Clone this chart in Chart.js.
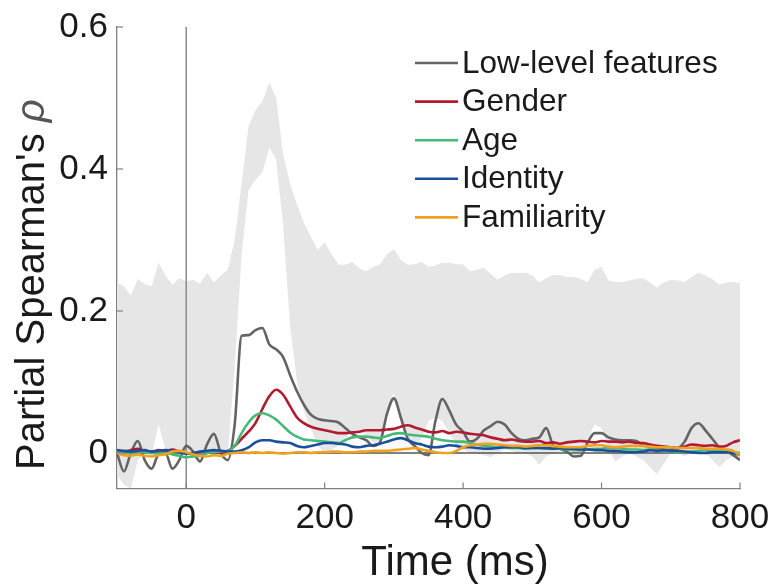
<!DOCTYPE html>
<html>
<head>
<meta charset="utf-8">
<script src="https://cdn.jsdelivr.net/npm/chart.js@4.4.1/dist/chart.umd.min.js"></script>
<style>
  html, body { margin: 0; padding: 0; background: #fff; }
</style>
</head>
<body>
<canvas id="chart" width="772" height="586"></canvas>
<script>
// time axis (ms), one sample every 10 ms
const times = [
  -100, -90, -80, -70, -60, -50, -40, -30, -20, -10,
  0, 10, 20, 30, 40, 50, 60, 70, 80, 90,
  100, 110, 120, 130, 140, 150, 160, 170, 180, 190,
  200, 210, 220, 230, 240, 250, 260, 270, 280, 290,
  300, 310, 320, 330, 340, 350, 360, 370, 380, 390,
  400, 410, 420, 430, 440, 450, 460, 470, 480, 490,
  500, 510, 520, 530, 540, 550, 560, 570, 580, 590,
  600, 610, 620, 630, 640, 650, 660, 670, 680, 690,
  700, 710, 720, 730, 740, 750, 760, 770, 780, 790,
  800
];

const lowLevel = [
  0.0, -0.026, 0.0, 0.017, -0.01, -0.022, -0.002, 0.0, -0.022, -0.01,
  0.01, 0.002, -0.012, 0.012, 0.027, 0.0, -0.01, 0.04, 0.165, 0.166,
  0.173, 0.176, 0.153, 0.146, 0.135, 0.11, 0.087, 0.068, 0.054, 0.048,
  0.046, 0.045, 0.043, 0.035, 0.027, 0.022, 0.018, 0.01, 0.015, 0.055,
  0.077, 0.05, 0.02, 0.01, 0.0, -0.003, 0.045, 0.076, 0.06, 0.04,
  0.03, 0.016, 0.02, 0.032, 0.038, 0.044, 0.04, 0.028, 0.02, 0.018,
  0.02, 0.022, 0.035, 0.011, 0.006, 0.002, -0.005, -0.004, 0.015, 0.028,
  0.028, 0.022, 0.019, 0.018, 0.018, 0.017, 0.011, 0.009, 0.007, 0.005,
  0.004, 0.006, 0.016, 0.035, 0.042, 0.032, 0.02, 0.008, 0.003, -0.003,
  -0.01
];

const gender = [
  0.003, 0.002, 0.004, 0.006, 0.003, 0.002, 0.004, 0.003, 0.005, 0.002,
  0.0, -0.002, -0.003, 0.0, 0.002, 0.0, 0.003, 0.01, 0.02, 0.03,
  0.042, 0.062, 0.08, 0.089, 0.082, 0.066, 0.05, 0.042, 0.037, 0.034,
  0.032, 0.03, 0.028, 0.028, 0.029, 0.03, 0.032, 0.032, 0.032, 0.033,
  0.034, 0.037, 0.039, 0.036, 0.033, 0.03, 0.029, 0.031, 0.028, 0.03,
  0.029, 0.027, 0.026, 0.025, 0.022, 0.02, 0.018, 0.019, 0.017, 0.016,
  0.016, 0.017, 0.014, 0.015, 0.013, 0.015, 0.016, 0.017, 0.016, 0.015,
  0.017, 0.016, 0.016, 0.015, 0.016, 0.014, 0.014, 0.012, 0.01, 0.009,
  0.008, 0.007, 0.009, 0.012, 0.011, 0.01, 0.011, 0.009, 0.01, 0.015,
  0.018
];

const age = [
  0.002, 0.001, 0.0, 0.002, 0.001, 0.0, -0.001, 0.0, -0.002, -0.004,
  -0.006, -0.005, -0.003, 0.0, 0.002, 0.002, 0.003, 0.01, 0.028, 0.043,
  0.053, 0.056, 0.053, 0.047, 0.038, 0.029, 0.023, 0.019, 0.018, 0.017,
  0.016, 0.015, 0.014, 0.018, 0.022, 0.023, 0.023, 0.022, 0.021, 0.024,
  0.027, 0.028, 0.026, 0.025, 0.024, 0.023, 0.02, 0.018, 0.017, 0.016,
  0.016, 0.014, 0.012, 0.01, 0.009, 0.008, 0.008, 0.007, 0.007, 0.006,
  0.007, 0.007, 0.006, 0.007, 0.006, 0.005, 0.004, 0.004, 0.005, 0.006,
  0.006, 0.007, 0.007, 0.006, 0.005, 0.005, 0.004, 0.005, 0.004, 0.003,
  0.002, 0.001, 0.001, 0.002, 0.003, 0.004, 0.004, 0.003, 0.002, 0.001,
  0.0
];

const identity = [
  0.004, 0.003, 0.002, 0.003, 0.004, 0.002, 0.003, 0.004, 0.003, 0.001,
  -0.001, 0.0, 0.002, 0.003, 0.004, 0.003, 0.002, 0.002, 0.004, 0.008,
  0.015, 0.018, 0.018, 0.016, 0.015, 0.014, 0.01, 0.008, 0.01, 0.012,
  0.014, 0.014, 0.013, 0.012, 0.009, 0.008, 0.01, 0.011, 0.013, 0.016,
  0.019, 0.021, 0.018, 0.014, 0.012, 0.009, 0.008, 0.009, 0.011, 0.01,
  0.008, 0.008, 0.007, 0.006, 0.006, 0.007, 0.008, 0.008, 0.008, 0.007,
  0.007, 0.007, 0.007, 0.006, 0.007, 0.006, 0.006, 0.005, 0.005, 0.004,
  0.004, 0.003, 0.003, 0.002, 0.001, 0.001, 0.002, 0.004, 0.003, 0.004,
  0.003, 0.003, 0.002, 0.001, 0.0, 0.0, 0.001, 0.001, 0.001, 0.0,
  -0.003
];

const familiarity = [
  0.0, -0.003, -0.004, -0.002, -0.004, -0.005, -0.003, -0.002, 0.002, 0.003,
  0.001, -0.002, -0.004, -0.005, -0.003, -0.004, -0.001, 0.0, 0.001, 0.0,
  0.001, 0.0, 0.001, 0.0, -0.001, 0.0, 0.001, 0.001, 0.0, 0.001,
  0.001, 0.002, 0.002, 0.001, 0.001, 0.002, 0.002, 0.003, 0.003, 0.003,
  0.004, 0.005, 0.006, 0.007, 0.005, 0.003, 0.001, 0.0, 0.0, 0.003,
  0.008, 0.011, 0.012, 0.013, 0.013, 0.012, 0.011, 0.01, 0.01, 0.009,
  0.01, 0.011, 0.011, 0.01, 0.009, 0.008, 0.008, 0.008, 0.01, 0.011,
  0.011, 0.009, 0.008, 0.009, 0.01, 0.01, 0.01, 0.009, 0.008, 0.008,
  0.008, 0.007, 0.007, 0.007, 0.007, 0.006, 0.006, 0.006, 0.005, 0.003,
  -0.003
];

// grey noise-ceiling band
const bandUpper = [
  0.24, 0.235, 0.222, 0.245, 0.238, 0.235, 0.268, 0.25, 0.237, 0.246,
  0.242, 0.244, 0.238, 0.254, 0.24, 0.25, 0.258, 0.3, 0.38, 0.46,
  0.483, 0.495, 0.522, 0.5, 0.42, 0.38, 0.35, 0.324, 0.305, 0.286,
  0.297, 0.28, 0.265, 0.265, 0.269, 0.26, 0.256, 0.262, 0.266, 0.28,
  0.287, 0.272, 0.265, 0.266, 0.269, 0.262, 0.264, 0.268, 0.268, 0.266,
  0.266, 0.256, 0.258, 0.261, 0.252, 0.244, 0.25, 0.254, 0.253, 0.254,
  0.25, 0.24, 0.246, 0.251, 0.25, 0.248, 0.248, 0.245, 0.241, 0.258,
  0.262, 0.243, 0.241, 0.241, 0.243, 0.245, 0.246, 0.24, 0.233, 0.24,
  0.244, 0.243, 0.241, 0.248, 0.254, 0.25, 0.245, 0.237, 0.24, 0.241,
  0.239
];

const bandLower = [
  -0.03, -0.045, -0.05, -0.01, 0.0, -0.005, 0.04, 0.005, 0.0, -0.005,
  0.0, -0.005, -0.015, 0.0, 0.005, 0.0, 0.0, 0.12, 0.28, 0.37,
  0.385, 0.395, 0.43, 0.413, 0.32, 0.18, 0.1, 0.06, 0.035, 0.01,
  0.0, 0.005, 0.01, 0.02, 0.03, 0.03, 0.025, 0.015, 0.01, 0.06,
  0.085, 0.04, 0.02, 0.01, 0.02, 0.045, 0.05, 0.045, 0.03, 0.01,
  0.005, 0.0, 0.0, -0.003, -0.006, 0.0, 0.005, 0.003, 0.0, 0.0,
  -0.005, -0.017, -0.005, 0.0, 0.002, 0.0, -0.005, 0.0, 0.02, 0.04,
  0.035, 0.005, -0.012, -0.005, 0.0, -0.005, -0.01, -0.02, -0.03, -0.015,
  0.0, 0.0, -0.005, 0.0, 0.005, 0.0, -0.01, -0.02, -0.01, -0.005,
  -0.01
];

const xTicks = [0, 200, 400, 600, 800];
const yTicks = [0, 0.2, 0.4, 0.6];
const xRange = [-100, 800];
const yRange = [-0.05, 0.6];
const onsetTime = 0;

const series = [
  { label: 'Low-level features', data: lowLevel, color: '#646464' },
  { label: 'Gender', data: gender, color: '#b3192f' },
  { label: 'Age', data: age, color: '#45b87a' },
  { label: 'Identity', data: identity, color: '#1b4f9e' },
  { label: 'Familiarity', data: familiarity, color: '#eea21f' }
];

const FONT = '"Liberation Sans", Arial, Helvetica, sans-serif';
const TEXT = '#1a1a1a';
const AXIS = '#808080';

const pts = ys => times.map((t, i) => ({ x: t, y: ys[i] }));

const datasets = [
  { data: pts(bandUpper), fill: '+1', backgroundColor: '#e6e6e6', borderWidth: 0, pointRadius: 0, order: 10 },
  { data: pts(bandLower), fill: false, borderWidth: 0, pointRadius: 0, order: 10 },
  { data: [{ x: xRange[0], y: 0 }, { x: xRange[1], y: 0 }], borderColor: '#555', borderWidth: 1.3, pointRadius: 0, order: 8 },
  { data: [{ x: onsetTime, y: yRange[0] }, { x: onsetTime, y: yRange[1] }], borderColor: '#8a8a8a', borderWidth: 1.5, pointRadius: 0, order: 8 }
];
// first series drawn lowest
series.forEach((s, i) => datasets.push({
  label: s.label,
  data: pts(s.data),
  borderColor: s.color,
  borderWidth: 2.6,
  pointRadius: 0,
  cubicInterpolationMode: 'monotone',
  fill: false,
  order: series.length - i
}));

// inward ticks, titles and the legend box
const decor = {
  id: 'decor',
  afterDraw(chart) {
    const { ctx, chartArea: a, scales: { x, y } } = chart;
    ctx.save();
    ctx.strokeStyle = AXIS;
    ctx.lineWidth = 1.2;
    xTicks.forEach(v => {
      const px = x.getPixelForValue(v);
      ctx.beginPath(); ctx.moveTo(px, a.bottom); ctx.lineTo(px, a.bottom - 6); ctx.stroke();
    });
    yTicks.forEach(v => {
      const py = y.getPixelForValue(v);
      ctx.beginPath(); ctx.moveTo(a.left, py); ctx.lineTo(a.left + 6, py); ctx.stroke();
    });

    ctx.fillStyle = TEXT;
    ctx.textBaseline = 'middle';
    ctx.textAlign = 'center';
    ctx.font = '42px ' + FONT;
    ctx.fillText('Time (ms)', 455, 563);

    // y title with italic rho, read bottom to top
    const main = "Partial Spearman's ";
    ctx.save();
    ctx.translate(33, 470);
    ctx.rotate(-Math.PI / 2);
    ctx.textAlign = 'left';
    ctx.font = '40px ' + FONT;
    const w1 = ctx.measureText(main).width;
    ctx.fillText(main, 0, 0);
    ctx.fillStyle = '#555';
    ctx.font = 'italic 40px ' + FONT;
    ctx.fillText('ρ', w1, 0);
    ctx.restore();

    // legend
    ctx.textAlign = 'left';
    ctx.font = '31.5px ' + FONT;
    ctx.lineWidth = 2.6;
    series.forEach((s, i) => {
      const ly = 63 + i * 38.6;
      ctx.strokeStyle = s.color;
      ctx.beginPath(); ctx.moveTo(415, ly); ctx.lineTo(458, ly); ctx.stroke();
      ctx.fillStyle = TEXT;
      ctx.fillText(s.label, 462, ly + 1);
    });
    ctx.restore();
  }
};

new Chart(document.getElementById('chart'), {
  type: 'line',
  data: { datasets },
  plugins: [decor],
  options: {
    responsive: false,
    devicePixelRatio: 1,
    animation: false,
    layout: { padding: { top: 27, right: 32, left: 0, bottom: 0 } },
    plugins: { legend: { display: false }, tooltip: { enabled: false } },
    scales: {
      x: {
        type: 'linear',
        min: xRange[0],
        max: xRange[1],
        afterBuildTicks: s => { s.ticks = xTicks.map(v => ({ value: v })); },
        afterFit: s => { s.height = 97.5; s.paddingLeft = 0; s.paddingRight = 0; },
        grid: { display: false, drawTicks: false },
        border: { display: true, color: AXIS, width: 1.3 },
        ticks: { color: TEXT, font: { size: 35, family: FONT }, padding: 9, maxRotation: 0 }
      },
      y: {
        min: yRange[0],
        max: yRange[1],
        afterBuildTicks: s => { s.ticks = yTicks.map(v => ({ value: v })); },
        afterFit: s => { s.width = 117; s.paddingTop = 0; s.paddingBottom = 0; },
        grid: { display: false, drawTicks: false },
        border: { display: true, color: AXIS, width: 1.3 },
        ticks: { color: TEXT, font: { size: 35, family: FONT }, padding: 9, callback: v => String(v) }
      }
    }
  }
});
</script>
</body>
</html>
